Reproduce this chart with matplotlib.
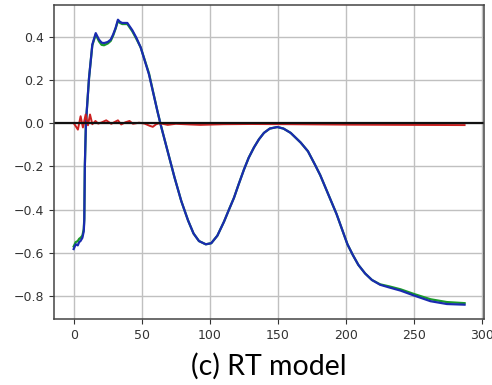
import matplotlib.pyplot as plt


# ==========================
# DATA
# ==========================

x_blue = [0, 1.5, 3, 4, 5, 6.4, 7.4, 7.8, 8.2, 9, 11.3, 13.7, 16.2, 18.6, 20.5,
          22.3, 25, 27.2, 29, 30.8, 32.5, 34, 35.7, 39.4, 43, 46, 49.2, 55.3,
          61.5, 64, 69, 74, 79, 84, 88, 92, 97, 101, 105.5, 110.4, 114, 117.7,
          121, 125, 128.5, 132.4, 136, 139.7, 144, 149.5, 154, 159.3, 166.7,
          172, 177, 181, 185, 189, 193, 197, 201, 205, 209, 214, 219, 225, 232,
          240, 250, 262, 274, 287]

y_blue = [-0.582, -0.56, -0.565, -0.55, -0.545, -0.53, -0.50, -0.45, -0.2, 0.0,
          0.21, 0.363, 0.416, 0.386, 0.372, 0.37, 0.375, 0.386, 0.41, 0.44, 0.478,
          0.468, 0.463, 0.463, 0.43, 0.395, 0.35, 0.225, 0.055, -0.01, -0.13,
          -0.25, -0.36, -0.45, -0.51, -0.545, -0.56, -0.555, -0.52, -0.455, -0.40,
          -0.345, -0.285, -0.215, -0.16, -0.112, -0.075, -0.045, -0.025, -0.018,
          -0.025, -0.045, -0.09, -0.13, -0.19, -0.24, -0.30, -0.36, -0.42, -0.49,
          -0.56, -0.61, -0.655, -0.695, -0.725, -0.747, -0.76, -0.774, -0.797,
          -0.823, -0.836, -0.839]

y_green = [-0.57, -0.55, -0.545, -0.535, -0.53, -0.52, -0.49, -0.44, -0.2, 0.0,
           0.21, 0.36, 0.41, 0.378, 0.362, 0.36, 0.368, 0.38, 0.405, 0.437, 0.472,
           0.463, 0.458, 0.458, 0.425, 0.39, 0.35, 0.23, 0.055, -0.01, -0.13,
           -0.25, -0.36, -0.45, -0.51, -0.545, -0.56, -0.555, -0.52, -0.455, -0.40,
           -0.345, -0.285, -0.215, -0.16, -0.112, -0.075, -0.045, -0.025, -0.018,
           -0.025, -0.045, -0.09, -0.13, -0.19, -0.24, -0.30, -0.36, -0.42, -0.49,
           -0.56, -0.61, -0.655, -0.695, -0.725, -0.745, -0.755, -0.768, -0.79,
           -0.814, -0.827, -0.832]

x_red = [0, 1.5, 3.1, 5.1, 6.8, 8.8, 10.5, 12, 13.7, 16, 18, 20.4, 23.9, 27.6,
         32.5, 34.9, 38, 41, 43.5, 48, 52, 55.7, 58.1, 60.6, 63, 69, 75, 85,
         93, 110, 130, 160, 200, 240, 287]

y_red = [0.0, -0.014, -0.03, 0.032, -0.02, 0.04, -0.01, 0.04, -0.005, 0.01,
         -0.002, 0.003, 0.013, -0.003, 0.013, -0.006, 0.004, 0.01, -0.003,
         0.002, -0.002, -0.012, -0.017, -0.005, 0.0, -0.008, -0.003, -0.006,
         -0.008, -0.005, -0.004, -0.005, -0.007, -0.008, -0.009]

x_ticks = [0, 50, 100, 150, 200, 250, 300]
y_ticks = [-0.8, -0.6, -0.4, -0.2, 0.0, 0.2, 0.4]

caption = "(c) RT model"


# ==========================
# PLOT
# ==========================

fig = plt.figure(figsize=(4.92, 3.85), dpi=100)

ax = fig.add_axes([0.11, 0.171, 0.874, 0.816])

ax.plot(x_blue, y_green, color="#1a9a2a", lw=1.6)
ax.plot(x_blue, y_blue, color="#1a2bb0", lw=1.6)
ax.plot(x_red, y_red, color="#cc2020", lw=1.4)
ax.axhline(0, color="#111111", lw=1.6)

ax.set_xticks(x_ticks)
ax.set_yticks(y_ticks)
ax.set_xlim(-14.35, 301.35)
ax.set_ylim(-0.906, 0.546)

ax.grid(color="#c0c0c0", lw=1.0)
ax.set_axisbelow(True)

ax.tick_params(labelsize=9, colors="#333333", length=3.5)
for s in ax.spines.values():
    s.set_color("#444444")
    s.set_linewidth(1.1)

fig.text(
    0.11 + 0.874 / 2,
    0.026,
    caption,
    ha="center",
    va="baseline",
    fontsize=20.5,
    family=["Lato", "DejaVu Sans"]
)

fig.savefig("out.png", dpi=100)
plt.close()
